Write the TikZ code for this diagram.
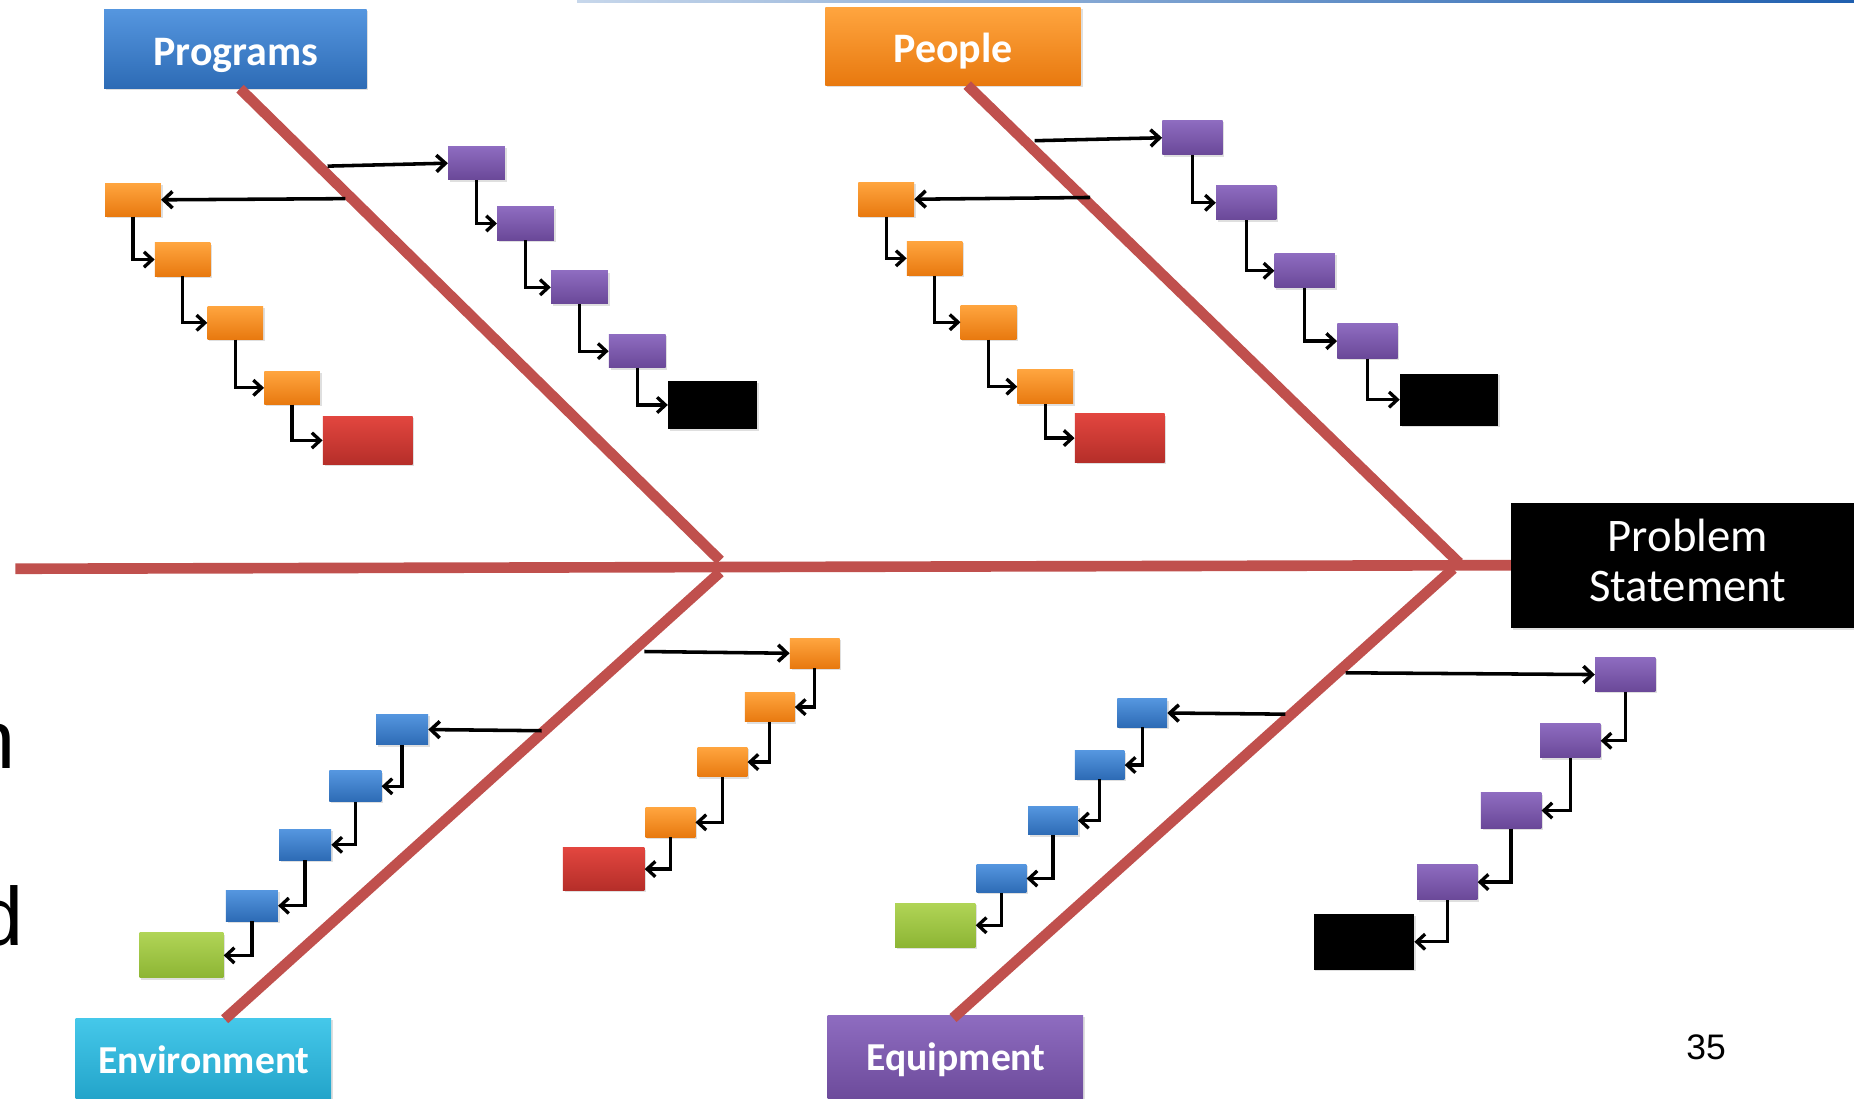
\documentclass[tikz,border=0pt]{standalone}
\usepackage{fontspec}
\setmainfont{Carlito}
\newfontfamily\arialf{Liberation Sans}
\usetikzlibrary{arrows.meta,shadows}
\definecolor{bonered}{HTML}{C0504D}
\definecolor{bluetop}{HTML}{5596DF}
\definecolor{bluebot}{HTML}{2D6BB5}
\definecolor{orangetop}{HTML}{FFA53F}
\definecolor{orangebot}{HTML}{E8790F}
\definecolor{purptop}{HTML}{8E6CC0}
\definecolor{purpbot}{HTML}{6A4898}
\definecolor{redtop}{HTML}{E2463F}
\definecolor{redbot}{HTML}{B52E29}
\definecolor{greentop}{HTML}{B0D456}
\definecolor{greenbot}{HTML}{8DB534}
\definecolor{cyantop}{HTML}{45C8EA}
\definecolor{cyanbot}{HTML}{1FA0C6}
\definecolor{slideblue}{HTML}{1F5FAF}
\begin{document}
\begin{tikzpicture}[x=1pt,y=-1pt,
  bone/.style={draw=bonered, line width=9pt},
  shd/.style={drop shadow={opacity=0.25, shadow xshift=1.5pt, shadow yshift=-1.5pt}},
  catbox/.style={rectangle, inner sep=0pt, shd},
  catlabel/.style={anchor=base, inner sep=0pt, text=white,
     font=\fontsize{35.5}{38}\selectfont\bfseries},
  sbox/.style={rectangle, inner sep=0pt, shd},
  bluef/.style={top color=bluetop, bottom color=bluebot},
  orangef/.style={top color=orangetop, bottom color=orangebot},
  purpf/.style={top color=purptop, bottom color=purpbot},
  redf/.style={top color=redtop, bottom color=redbot},
  greenf/.style={top color=greentop, bottom color=greenbot},
  cyanf/.style={top color=cyantop, bottom color=cyanbot},
  blackf/.style={fill=black},
  conn/.style={draw=black, line width=3pt, -{Straight Barb[length=7.5pt,width=14pt]}},
  elb/.style={draw=black, line width=2.8pt, -{Straight Barb[length=7pt,width=13pt]}}
]
\useasboundingbox (0,0) rectangle (1568,929);
\clip (0,0) rectangle (1568,929);
\fill[white] (0,0) rectangle (1568,929);

% slide remnants
\shade[left color=slideblue!25, right color=slideblue] (488,0) rectangle (1568,2.4);
\node[font=\arialf\fontsize{70}{72}\selectfont, anchor=base west, inner sep=0pt] (sn) at (-26.4,650) {n};
\node[font=\arialf\fontsize{70}{72}\selectfont, anchor=base west, inner sep=0pt] (sd) at (-19,800) {d};
\node[font=\arialf\fontsize{30}{32}\selectfont, inner sep=0pt] (pg) at (1443,886) {35};

% category boxes
\node[catbox, bluef, minimum width=222pt, minimum height=67pt] (prog) at (199,41.5) {};
\node[catbox, orangef, minimum width=216pt, minimum height=66pt] (peop) at (806,39) {};
\node[catbox, cyanf, minimum width=216pt, minimum height=76pt] (envi) at (172,899) {};
\node[catbox, purpf, minimum width=216pt, minimum height=76pt] (equi) at (808,897) {};
\node[catlabel] (progt) at (199.5,55) {Programs};
\node[catlabel] (peopt) at (806,53) {People};
\node[catlabel, font=\fontsize{33.5}{36}\selectfont\bfseries] (envit) at (172.5,908) {Environment};
\node[catlabel, font=\fontsize{33.5}{36}\selectfont\bfseries] (equit) at (808.5,905) {Equipment};
\node[rectangle, inner sep=0pt, fill=black, shd,
      minimum width=297pt, minimum height=106pt] (prob) at (1426.5,478) {};
\node[text=white, align=center, inner sep=0pt,
      font=\fontsize{39.5}{41.5}\selectfont] (probt) at (1427.5,474) {Problem\\Statement};

% bones
\coordinate (tail) at (13,481);
\coordinate (b1s) at (203,75);  \coordinate (b1e) at (609,474);
\coordinate (b2s) at (818,72);  \coordinate (b2e) at (1234,476);
\coordinate (b3s) at (609,484); \coordinate (b3e) at (190,862);
\coordinate (b4s) at (1229,481); \coordinate (b4e) at (806,861);
\draw[bone] (tail) -- (prob.west);
\draw[bone] (b1s) -- (b1e);
\draw[bone] (b2s) -- (b2e);
\draw[bone] (b3s) -- (b3e);
\draw[bone] (b4s) -- (b4e);

% ---------- upper left (Programs) ----------
\node[sbox, purpf, minimum width=48pt, minimum height=28pt] (ap1) at (403,138) {};
\node[sbox, purpf, minimum width=48pt, minimum height=28pt] (ap2) at (444.5,189) {};
\node[sbox, purpf, minimum width=48pt, minimum height=28pt] (ap3) at (490,243) {};
\node[sbox, purpf, minimum width=48pt, minimum height=28pt] (ap4) at (539,297) {};
\node[sbox, blackf, minimum width=75pt, minimum height=41pt] (ak) at (602.5,342.5) {};
\node[sbox, orangef, minimum width=47pt, minimum height=28pt] (ao1) at (112.5,169) {};
\node[sbox, orangef, minimum width=47pt, minimum height=28pt] (ao2) at (154.5,219.5) {};
\node[sbox, orangef, minimum width=47pt, minimum height=28pt] (ao3) at (199,273) {};
\node[sbox, orangef, minimum width=47pt, minimum height=28pt] (ao4) at (247,328) {};
\node[sbox, redf, minimum width=76pt, minimum height=41pt] (ar) at (311,372.5) {};
\coordinate (as1) at (277,140.5);
\coordinate (as2) at (292,168);
\draw[conn] (as1) -- (ap1.west);
\draw[conn] (as2) -- (ao1.east);
\draw[elb] (ap1.south) |- (ap2.west);
\draw[elb] (ap2.south) |- (ap3.west);
\draw[elb] (ap3.south) |- (ap4.west);
\draw[elb] (ap4.south) |- (ak.west);
\draw[elb] (ao1.south) |- (ao2.west);
\draw[elb] (ao2.south) |- (ao3.west);
\draw[elb] (ao3.south) |- (ao4.west);
\draw[elb] (ao4.south) |- (ar.west);

% ---------- upper right (People) ----------
\node[sbox, purpf, minimum width=51pt, minimum height=29pt] (bp1) at (1008.5,116.5) {};
\node[sbox, purpf, minimum width=51pt, minimum height=29pt] (bp2) at (1054,171.5) {};
\node[sbox, purpf, minimum width=51pt, minimum height=29pt] (bp3) at (1103.5,229) {};
\node[sbox, purpf, minimum width=51pt, minimum height=29pt] (bp4) at (1156.5,288.5) {};
\node[sbox, blackf, minimum width=83pt, minimum height=44pt] (bk) at (1225.5,338) {};
\node[sbox, orangef, minimum width=47pt, minimum height=29pt] (bo1) at (749.5,168.5) {};
\node[sbox, orangef, minimum width=47pt, minimum height=29pt] (bo2) at (790.5,218.5) {};
\node[sbox, orangef, minimum width=47pt, minimum height=29pt] (bo3) at (836,272.5) {};
\node[sbox, orangef, minimum width=47pt, minimum height=29pt] (bo4) at (884,327) {};
\node[sbox, redf, minimum width=76pt, minimum height=41pt] (br) at (947,370.5) {};
\coordinate (bs1) at (875,119);
\coordinate (bs2) at (922,167);
\draw[conn] (bs1) -- (bp1.west);
\draw[conn] (bs2) -- (bo1.east);
\draw[elb] (bp1.south) |- (bp2.west);
\draw[elb] (bp2.south) |- (bp3.west);
\draw[elb] (bp3.south) |- (bp4.west);
\draw[elb] (bp4.south) |- (bk.west);
\draw[elb] (bo1.south) |- (bo2.west);
\draw[elb] (bo2.south) |- (bo3.west);
\draw[elb] (bo3.south) |- (bo4.west);
\draw[elb] (bo4.south) |- (br.west);

% ---------- lower left (Environment) ----------
\node[sbox, orangef, minimum width=42pt, minimum height=25pt] (co1) at (689,552.5) {};
\node[sbox, orangef, minimum width=42pt, minimum height=25pt] (co2) at (651,598) {};
\node[sbox, orangef, minimum width=42pt, minimum height=25pt] (co3) at (611,644.5) {};
\node[sbox, orangef, minimum width=42pt, minimum height=25pt] (co4) at (567,695.5) {};
\node[sbox, redf, minimum width=69pt, minimum height=36pt] (cr) at (510.5,735) {};
\node[sbox, bluef, minimum width=44pt, minimum height=26pt] (cb1) at (340,617) {};
\node[sbox, bluef, minimum width=44pt, minimum height=26pt] (cb2) at (300.5,665) {};
\node[sbox, bluef, minimum width=44pt, minimum height=26pt] (cb3) at (258,714.5) {};
\node[sbox, bluef, minimum width=44pt, minimum height=26pt] (cb4) at (213,766) {};
\node[sbox, greenf, minimum width=71pt, minimum height=38pt] (cg) at (153.5,808) {};
\coordinate (cs1) at (545,551);
\coordinate (cs2) at (458,618);
\draw[conn] (cs1) -- (co1.west);
\draw[conn] (cs2) -- (cb1.east);
\draw[elb] (co1.south) |- (co2.east);
\draw[elb] (co2.south) |- (co3.east);
\draw[elb] (co3.south) |- (co4.east);
\draw[elb] (co4.south) |- (cr.east);
\draw[elb] (cb1.south) |- (cb2.east);
\draw[elb] (cb2.south) |- (cb3.east);
\draw[elb] (cb3.south) |- (cb4.east);
\draw[elb] (cb4.south) |- (cg.east);

% ---------- lower right (Equipment) ----------
\node[sbox, purpf, minimum width=51pt, minimum height=29pt] (dp1) at (1374.5,570.5) {};
\node[sbox, purpf, minimum width=51pt, minimum height=29pt] (dp2) at (1328,626.5) {};
\node[sbox, purpf, minimum width=51pt, minimum height=30pt] (dp3) at (1278,685.5) {};
\node[sbox, purpf, minimum width=51pt, minimum height=30pt] (dp4) at (1224,746) {};
\node[sbox, blackf, minimum width=85pt, minimum height=47pt] (dk) at (1153.5,796.5) {};
\node[sbox, bluef, minimum width=42pt, minimum height=24pt] (db1) at (966,603) {};
\node[sbox, bluef, minimum width=42pt, minimum height=24pt] (db2) at (930,647) {};
\node[sbox, bluef, minimum width=42pt, minimum height=24pt] (db3) at (890.5,694) {};
\node[sbox, bluef, minimum width=42pt, minimum height=24pt] (db4) at (847,743) {};
\node[sbox, greenf, minimum width=68pt, minimum height=37pt] (dg) at (791,782.5) {};
\coordinate (ds1) at (1138,569);
\coordinate (ds2) at (1087,604);
\draw[conn] (ds1) -- (dp1.west);
\draw[conn] (ds2) -- (db1.east);
\draw[elb] (dp1.south) |- (dp2.east);
\draw[elb] (dp2.south) |- (dp3.east);
\draw[elb] (dp3.south) |- (dp4.east);
\draw[elb] (dp4.south) |- (dk.east);
\draw[elb] (db1.south) |- (db2.east);
\draw[elb] (db2.south) |- (db3.east);
\draw[elb] (db3.south) |- (db4.east);
\draw[elb] (db4.south) |- (dg.east);
\end{tikzpicture}
\end{document}
